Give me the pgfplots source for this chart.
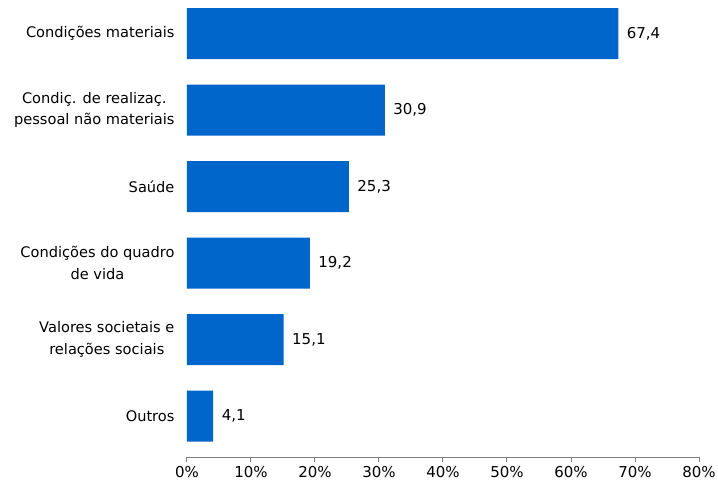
\documentclass[border=0pt]{standalone}
\usepackage{pgfplots}
\pgfplotsset{compat=1.18}
\usepackage{fontspec}
\setmainfont{DejaVu Sans}
\definecolor{barblue}{HTML}{0066CC}
\definecolor{axgray}{HTML}{808080}
\begin{document}
\begin{tikzpicture}
\begin{axis}[
  name=ax,
  scale only axis,
  width=512pt, height=456pt,
  xbar, bar width=51pt,
  xmin=0, xmax=80,
  ymin=-0.425, ymax=5.536,
  y dir=reverse,
  ytick={0,1,2,3,4,5},
  yticklabels={Condições materiais,{Condiç. de realizaç.\\pessoal não materiais},Saúde,{Condições do quadro\\de vida},{Valores societais e\\relações sociais},Outros},
  yticklabel style={align=center, font=\fontsize{14.6}{21.5}\selectfont, xshift=-4pt},
  major y tick style={draw=none},
  axis x line*=bottom,
  axis y line*=left,
  y axis line style={draw=none},
  x axis line style={draw=axgray, line width=1pt, -},
  xtick={0,10,...,80},
  tick align=outside,
  major x tick style={draw=axgray, line width=1pt},
  major tick length=5pt,
  xticklabel={\pgfmathprintnumber{\tick}\%},
  xticklabel style={font=\fontsize{15}{17}\selectfont, yshift=-1pt},
  /pgf/number format/assume math mode=true,
  nodes near coords,
  nodes near coords style={anchor=west, xshift=5pt, font=\fontsize{15}{17}\selectfont,
    /pgf/number format/.cd, fixed, precision=1, fixed zerofill, use comma, assume math mode=true},
]
\addplot[fill=barblue, draw=none] coordinates {(67.4,0) (30.9,1) (25.3,2) (19.2,3) (15.1,4) (4.1,5)};
\end{axis}
\pgfresetboundingbox
\path[use as bounding box] ([xshift=-187pt,yshift=-30pt]ax.south west) rectangle ([xshift=19pt,yshift=1pt]ax.north east);
\end{tikzpicture}
\end{document}
